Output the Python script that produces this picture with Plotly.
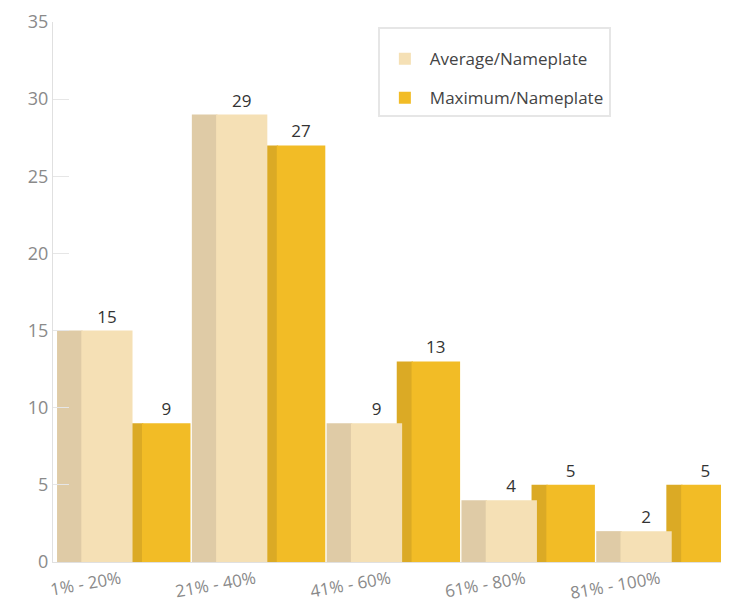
import plotly.graph_objects as go

categories = ["1% - 20%", "21% - 40%", "41% - 60%", "61% - 80%", "81% - 100%"]
average_nameplate = [15, 29, 9, 4, 2]
maximum_nameplate = [9, 27, 13, 5, 5]
y_ticks = [0, 5, 10, 15, 20, 25, 30, 35]

x = list(range(len(categories)))

avg_front = "#F5E0B5"
avg_side = "#DFCBA6"
max_front = "#F2BC26"
max_side = "#DBAA25"

fig = go.Figure()
# side faces (depth effect)
fig.add_trace(go.Bar(x=x, y=average_nameplate, offset=-0.47, width=0.19,
                     marker=dict(color=avg_side, line=dict(width=0)),
                     showlegend=False, hoverinfo="skip"))
fig.add_trace(go.Bar(x=x, y=maximum_nameplate, offset=0.05, width=0.12,
                     marker=dict(color=max_side, line=dict(width=0)),
                     showlegend=False, hoverinfo="skip"))
# front faces
fig.add_trace(go.Bar(x=x, y=average_nameplate, offset=-0.29, width=0.38,
                     name="Average/Nameplate", legendgroup="a",
                     marker=dict(color=avg_front, line=dict(width=0)),
                     text=average_nameplate, textposition="outside",
                     textfont=dict(size=17, color="#333333"), cliponaxis=False))
fig.add_trace(go.Bar(x=x, y=maximum_nameplate, offset=0.16, width=0.36,
                     name="Maximum/Nameplate", legendgroup="b",
                     marker=dict(color=max_front, line=dict(width=0)),
                     text=maximum_nameplate, textposition="outside",
                     textfont=dict(size=17, color="#333333"), cliponaxis=False))

fig.update_layout(
    width=729, height=604,
    margin=dict(l=45, r=10, t=14, b=50),
    barmode="overlay",
    paper_bgcolor="white", plot_bgcolor="white",
    font=dict(family="Open Sans, Noto Sans, sans-serif", color="#888888"),
    legend=dict(x=0.482, y=0.99, xanchor="left", yanchor="top",
                bordercolor="#e6e6e6", borderwidth=2, bgcolor="white",
                font=dict(size=17, color="#444444"),
                title=dict(text=" ", font=dict(size=9)),
                traceorder="grouped", tracegroupgap=14, itemwidth=40),
    xaxis=dict(range=[-0.5, 4.5], tickmode="array", tickvals=x, ticktext=categories,
               tickangle=-10, tickfont=dict(size=17, color="#8a8a8a"),
               showline=True, linecolor="#e0e0e0", linewidth=1,
               showgrid=False, zeroline=False, ticks="", automargin=False),
    yaxis=dict(range=[0, 35], tickmode="array", tickvals=y_ticks,
               tickfont=dict(size=18, color="#8a8a8a"),
               showline=True, linecolor="#e0e0e0", linewidth=1,
               showgrid=False, zeroline=False, ticks="inside", ticklen=16,
               tickcolor="#e6e6e6", automargin=False),
)

fig.write_html("out.html")
